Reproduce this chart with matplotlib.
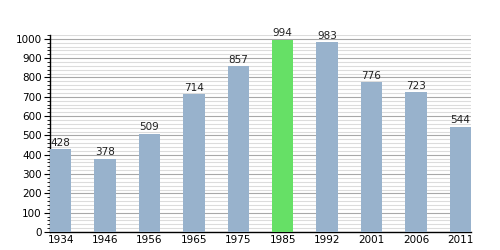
import numpy as np
import matplotlib
matplotlib.use("Agg")
import matplotlib.pyplot as plt
from matplotlib.ticker import MultipleLocator

years = ['1934', '1946', '1956', '1965', '1975', '1985', '1992', '2001', '2006', '2011']
population = [428, 378, 509, 714, 857, 994, 983, 776, 723, 544]
highlight = '1985'

fig = plt.figure(figsize=(5, 2.5), dpi=100)
ax = fig.add_axes([0.1, 0.072, 0.842, 0.788])

x = np.arange(len(years))
colors = ['#66e066' if y == highlight else '#98b2cc' for y in years]
ax.bar(x, population, width=0.48, color=colors, zorder=3)

for xi, v in zip(x, population):
    ax.text(xi, v + 8, str(v), ha='center', va='bottom', fontsize=7.5, color='#222222')

ax.set_xlim(-0.24, len(years) - 0.76)
ax.set_ylim(0, 1020)
ax.set_xticks(x)
ax.set_xticklabels(years)
ax.yaxis.set_major_locator(MultipleLocator(100))
ax.yaxis.set_minor_locator(MultipleLocator(20))
ax.grid(axis='y', which='major', color='#a8a8a8', linewidth=0.8, zorder=0)
ax.grid(axis='y', which='minor', color='#dcdcdc', linewidth=0.8, zorder=0)

ax.spines['top'].set_visible(False)
ax.spines['right'].set_visible(False)
ax.spines['left'].set_linewidth(1.0)
ax.spines['bottom'].set_linewidth(1.0)
ax.tick_params(axis='x', length=0, labelsize=7.5, pad=2)
ax.tick_params(axis='y', which='major', length=4, labelsize=7.5, pad=2)
ax.tick_params(axis='y', which='minor', length=2)

fig.savefig('out.png', dpi=100)
